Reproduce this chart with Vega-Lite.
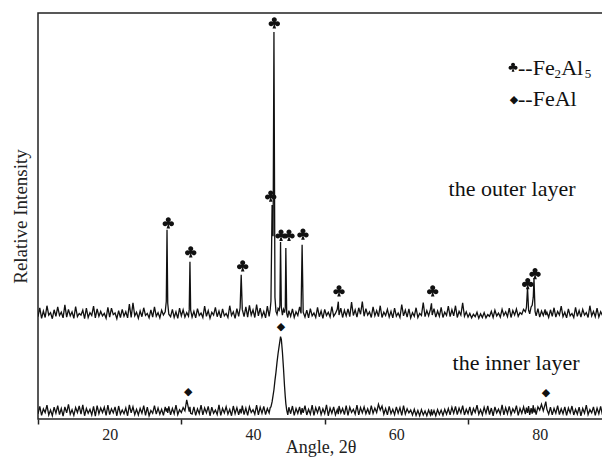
{
  "$schema": "https://vega.github.io/schema/vega-lite/v6.json",
  "autosize": {"type": "none"},
  "padding": {"left": 38, "top": 13, "right": 0, "bottom": 40},
  "width": 565,
  "height": 406,
  "background": "white",
  "config": {
    "view": {"stroke": "#222", "strokeWidth": 1.5},
    "font": "Liberation Serif",
    "text": {"font": "Liberation Serif", "color": "#111"}
  },
  "datasets": {
    "xrd": [
      {"a":10.0,"o":25.2,"i":1.3},{"a":10.25,"o":27.4,"i":3.1},{"a":10.5,"o":24.8,"i":0.9},{"a":10.75,"o":26.6,"i":2.5},
      {"a":11.0,"o":25.0,"i":1.6},{"a":11.25,"o":27.9,"i":3.4},{"a":11.5,"o":25.6,"i":1.0},{"a":11.75,"o":26.2,"i":2.2},
      {"a":12.0,"o":24.7,"i":0.8},{"a":12.25,"o":26.9,"i":2.9},{"a":12.5,"o":25.3,"i":1.4},{"a":12.75,"o":27.6,"i":3.3},
      {"a":13.0,"o":25.5,"i":1.1},{"a":13.25,"o":26.3,"i":2.6},{"a":13.5,"o":24.9,"i":0.7},{"a":13.75,"o":28.1,"i":3.0},
      {"a":14.0,"o":25.1,"i":1.5},{"a":14.25,"o":27.0,"i":3.6},{"a":14.5,"o":25.4,"i":1.2},{"a":14.75,"o":26.4,"i":2.3},
      {"a":15.0,"o":24.8,"i":0.9},{"a":15.25,"o":27.7,"i":2.8},{"a":15.5,"o":25.2,"i":1.6},{"a":15.75,"o":26.0,"i":3.2},
      {"a":16.0,"o":25.6,"i":1.2},{"a":16.25,"o":26.8,"i":3.5},{"a":16.5,"o":24.7,"i":0.8},{"a":16.75,"o":27.3,"i":2.6},
      {"a":17.0,"o":25.0,"i":1.4},{"a":17.25,"o":26.2,"i":2.4},{"a":17.5,"o":25.5,"i":1.0},{"a":17.75,"o":27.8,"i":3.1},
      {"a":18.0,"o":24.9,"i":0.7},{"a":18.25,"o":27.1,"i":3.3},{"a":18.5,"o":25.3,"i":1.3},{"a":18.75,"o":26.5,"i":2.7},
      {"a":19.0,"o":25.4,"i":1.6},{"a":19.25,"o":26.0,"i":2.9},{"a":19.5,"o":24.8,"i":0.9},{"a":19.75,"o":27.5,"i":3.4},
      {"a":20.0,"o":25.1,"i":1.1},{"a":20.25,"o":27.3,"i":2.5},{"a":20.5,"o":25.7,"i":1.5},{"a":20.75,"o":26.1,"i":3.0},
      {"a":21.0,"o":24.7,"i":0.8},{"a":21.25,"o":26.7,"i":3.2},{"a":21.5,"o":25.0,"i":1.2},{"a":21.75,"o":27.0,"i":2.2},
      {"a":22.0,"o":25.3,"i":1.3},{"a":22.25,"o":26.4,"i":2.7},{"a":22.5,"o":24.9,"i":0.8},{"a":22.75,"o":28.3,"i":3.5},
      {"a":23.0,"o":25.0,"i":1.5},{"a":23.25,"o":28.6,"i":3.0},{"a":23.5,"o":25.4,"i":1.1},{"a":23.75,"o":26.3,"i":2.4},
      {"a":24.0,"o":24.8,"i":1.0},{"a":24.25,"o":26.6,"i":2.6},{"a":24.5,"o":25.2,"i":1.4},{"a":24.75,"o":27.4,"i":3.3},
      {"a":25.0,"o":25.5,"i":0.9},{"a":25.25,"o":26.0,"i":2.9},{"a":25.5,"o":24.9,"i":0.8},{"a":25.75,"o":26.9,"i":2.1},
      {"a":26.0,"o":25.1,"i":1.4},{"a":26.25,"o":27.6,"i":3.3},{"a":26.5,"o":25.3,"i":1.2},{"a":26.75,"o":26.2,"i":2.7},
      {"a":27.0,"o":24.9,"i":1.2},{"a":27.25,"o":26.8,"i":2.4},{"a":27.5,"o":25.6,"i":0.9},{"a":27.75,"o":26.4,"i":3.0},
      {"a":27.9,"o":29.0,"i":1.8},{"a":28.0,"o":46.6,"i":2.6},{"a":28.1,"o":28.5,"i":1.5},{"a":28.25,"o":25.8,"i":3.1},
      {"a":28.5,"o":25.2,"i":1.0},{"a":28.75,"o":27.0,"i":2.6},
      {"a":29.0,"o":25.0,"i":1.3},{"a":29.25,"o":26.4,"i":3.4},{"a":29.5,"o":24.8,"i":1.1},{"a":29.75,"o":27.3,"i":2.3},
      {"a":30.0,"o":25.4,"i":1.6},{"a":30.25,"o":26.9,"i":2.8},{"a":30.5,"o":25.1,"i":2.0},{"a":30.75,"o":26.2,"i":4.7},
      {"a":31.0,"o":25.3,"i":2.6},{"a":31.1,"o":27.0,"i":1.8},{"a":31.2,"o":38.7,"i":3.0},{"a":31.3,"o":26.8,"i":1.4},
      {"a":31.5,"o":25.1,"i":1.2},{"a":31.75,"o":26.5,"i":3.0},
      {"a":32.0,"o":24.9,"i":0.9},{"a":32.25,"o":27.2,"i":2.5},{"a":32.5,"o":25.5,"i":1.3},{"a":32.75,"o":26.1,"i":3.4},
      {"a":33.0,"o":25.0,"i":1.0},{"a":33.25,"o":27.8,"i":2.7},{"a":33.5,"o":25.3,"i":1.5},{"a":33.75,"o":26.7,"i":3.1},
      {"a":34.0,"o":24.8,"i":0.8},{"a":34.25,"o":26.3,"i":2.9},{"a":34.5,"o":25.6,"i":1.4},{"a":34.75,"o":27.5,"i":2.2},
      {"a":35.0,"o":25.2,"i":1.1},{"a":35.25,"o":26.6,"i":3.5},{"a":35.5,"o":24.9,"i":0.9},{"a":35.75,"o":27.1,"i":2.6},
      {"a":36.0,"o":25.4,"i":1.5},{"a":36.25,"o":26.0,"i":3.0},{"a":36.5,"o":25.0,"i":1.2},{"a":36.75,"o":27.9,"i":2.4},
      {"a":37.0,"o":25.5,"i":0.8},{"a":37.25,"o":26.4,"i":3.2},{"a":37.5,"o":24.8,"i":1.3},{"a":37.75,"o":27.2,"i":2.8},
      {"a":38.0,"o":25.3,"i":1.0},{"a":38.2,"o":27.4,"i":2.5},{"a":38.35,"o":35.5,"i":1.4},{"a":38.5,"o":27.0,"i":3.3},
      {"a":38.75,"o":25.2,"i":1.1},
      {"a":39.0,"o":27.6,"i":2.7},{"a":39.25,"o":25.1,"i":0.9},{"a":39.5,"o":28.0,"i":3.0},{"a":39.75,"o":25.6,"i":1.6},
      {"a":40.0,"o":26.9,"i":2.3},{"a":40.25,"o":25.0,"i":1.2},{"a":40.5,"o":28.2,"i":3.4},{"a":40.75,"o":25.4,"i":1.0},
      {"a":41.0,"o":27.3,"i":2.9},{"a":41.25,"o":25.2,"i":1.4},{"a":41.5,"o":26.5,"i":3.1},{"a":41.75,"o":24.9,"i":1.1},
      {"a":42.0,"o":27.8,"i":2.6},{"a":42.25,"o":25.3,"i":1.5},{"a":42.4,"o":27.0,"i":2.8},{"a":42.5,"o":29.0,"i":3.0},
      {"a":42.66,"o":52.7,"i":4.2},{"a":42.8,"o":45.0,"i":5.8},{"a":42.92,"o":95.3,"i":7.2},{"a":43.06,"o":30.0,"i":9.5},
      {"a":43.2,"o":26.5,"i":11.5},{"a":43.35,"o":25.8,"i":14.0},{"a":43.5,"o":27.2,"i":16.2},{"a":43.65,"o":26.8,"i":18.0},
      {"a":43.75,"o":28.0,"i":19.2},{"a":43.84,"o":43.6,"i":20.3},{"a":43.95,"o":27.5,"i":19.6},{"a":44.1,"o":25.6,"i":16.5},
      {"a":44.25,"o":27.0,"i":12.5},{"a":44.4,"o":26.2,"i":8.0},{"a":44.5,"o":27.4,"i":5.5},{"a":44.58,"o":42.1,"i":3.8},
      {"a":44.7,"o":26.0,"i":2.2},{"a":44.85,"o":25.0,"i":1.0},
      {"a":45.0,"o":26.7,"i":2.9},{"a":45.25,"o":25.3,"i":1.3},{"a":45.5,"o":27.1,"i":3.2},{"a":45.75,"o":25.0,"i":0.9},
      {"a":46.0,"o":26.4,"i":2.6},{"a":46.25,"o":25.5,"i":1.4},{"a":46.5,"o":27.6,"i":3.0},{"a":46.7,"o":26.0,"i":1.1},
      {"a":46.85,"o":42.9,"i":2.7},{"a":47.0,"o":26.3,"i":1.5},{"a":47.25,"o":25.1,"i":3.3},{"a":47.5,"o":26.8,"i":1.0},
      {"a":47.75,"o":24.9,"i":2.4},{"a":48.0,"o":27.2,"i":1.2},{"a":48.25,"o":25.4,"i":3.4},{"a":48.5,"o":26.1,"i":0.9},
      {"a":48.75,"o":25.0,"i":2.8},{"a":49.0,"o":27.5,"i":1.5},{"a":49.25,"o":25.2,"i":3.1},{"a":49.5,"o":26.6,"i":1.1},
      {"a":49.75,"o":24.8,"i":2.5},{"a":50.0,"o":27.0,"i":1.3},{"a":50.25,"o":25.5,"i":3.5},{"a":50.5,"o":26.3,"i":0.8},
      {"a":50.75,"o":25.1,"i":2.7},{"a":51.0,"o":27.7,"i":1.4},{"a":51.25,"o":25.3,"i":3.0},{"a":51.5,"o":26.0,"i":1.0},
      {"a":51.75,"o":27.0,"i":2.3},{"a":51.9,"o":28.9,"i":1.2},{"a":52.0,"o":25.6,"i":3.2},{"a":52.25,"o":27.3,"i":1.5},
      {"a":52.5,"o":25.0,"i":2.6},{"a":52.75,"o":26.8,"i":1.1},{"a":53.0,"o":25.4,"i":3.3},{"a":53.25,"o":27.1,"i":0.9},
      {"a":53.5,"o":25.2,"i":2.9},{"a":53.75,"o":28.8,"i":1.6},{"a":54.0,"o":25.5,"i":2.4},{"a":54.25,"o":26.9,"i":1.2},
      {"a":54.5,"o":25.1,"i":3.4},{"a":54.75,"o":27.4,"i":1.0},{"a":55.0,"o":25.8,"i":2.8},{"a":55.25,"o":28.9,"i":1.5},
      {"a":55.5,"o":25.3,"i":3.0},{"a":55.75,"o":27.2,"i":1.3},{"a":56.0,"o":25.6,"i":2.5},{"a":56.25,"o":26.4,"i":1.1},
      {"a":56.5,"o":25.0,"i":3.3},{"a":56.75,"o":27.6,"i":1.4},{"a":57.0,"o":25.4,"i":2.7},{"a":57.25,"o":26.7,"i":1.6},
      {"a":57.5,"o":25.2,"i":3.6},{"a":57.75,"o":27.9,"i":2.2},{"a":58.0,"o":25.0,"i":3.2},{"a":58.25,"o":26.3,"i":1.2},
      {"a":58.5,"o":25.5,"i":2.6},{"a":58.75,"o":27.0,"i":1.0},{"a":59.0,"o":25.1,"i":3.1},{"a":59.25,"o":26.5,"i":1.3},
      {"a":59.5,"o":24.9,"i":2.4},{"a":59.75,"o":27.3,"i":1.1},{"a":60.0,"o":25.3,"i":3.0},{"a":60.25,"o":26.1,"i":1.4},
      {"a":60.5,"o":25.0,"i":2.8},{"a":60.75,"o":28.2,"i":0.9},{"a":61.0,"o":25.4,"i":3.3},{"a":61.25,"o":26.8,"i":1.2},
      {"a":61.5,"o":25.1,"i":2.5},{"a":61.75,"o":27.1,"i":1.5},{"a":62.0,"o":24.9,"i":2.2},{"a":62.25,"o":26.2,"i":1.0},
      {"a":62.5,"o":25.3,"i":2.4},{"a":62.75,"o":27.4,"i":0.9},{"a":63.0,"o":25.0,"i":2.1},{"a":63.25,"o":26.0,"i":0.8},
      {"a":63.5,"o":25.5,"i":2.3},{"a":63.75,"o":28.7,"i":1.0},{"a":64.0,"o":25.2,"i":2.0},{"a":64.25,"o":26.7,"i":0.8},
      {"a":64.5,"o":25.4,"i":2.2},{"a":64.75,"o":27.0,"i":1.0},{"a":64.9,"o":28.5,"i":2.4},{"a":65.0,"o":25.6,"i":0.9},
      {"a":65.25,"o":27.2,"i":2.1},{"a":65.5,"o":25.1,"i":0.8},{"a":65.75,"o":26.6,"i":2.3},{"a":66.0,"o":25.3,"i":1.1},
      {"a":66.25,"o":27.5,"i":2.2},{"a":66.5,"o":25.0,"i":0.9},{"a":66.75,"o":26.3,"i":2.4},{"a":67.0,"o":25.5,"i":1.2},
      {"a":67.25,"o":27.8,"i":2.6},{"a":67.5,"o":25.2,"i":1.0},{"a":67.75,"o":26.9,"i":2.9},{"a":68.0,"o":25.4,"i":1.4},
      {"a":68.25,"o":27.9,"i":3.1},{"a":68.5,"o":25.0,"i":1.1},{"a":68.75,"o":26.5,"i":2.7},{"a":69.0,"o":25.6,"i":1.5},
      {"a":69.25,"o":28.6,"i":3.3},{"a":69.5,"o":25.3,"i":1.0},{"a":69.75,"o":26.4,"i":2.4},{"a":70.0,"o":25.1,"i":1.3},
      {"a":70.25,"o":26.0,"i":3.0},{"a":70.5,"o":24.9,"i":0.9},{"a":70.75,"o":25.8,"i":2.6},{"a":71.0,"o":25.2,"i":1.6},
      {"a":71.25,"o":26.3,"i":3.4},{"a":71.5,"o":24.8,"i":1.2},{"a":71.75,"o":25.9,"i":2.3},{"a":72.0,"o":25.0,"i":1.0},
      {"a":72.25,"o":26.2,"i":2.9},{"a":72.5,"o":24.9,"i":1.4},{"a":72.75,"o":25.7,"i":3.2},{"a":73.0,"o":25.3,"i":1.1},
      {"a":73.25,"o":26.5,"i":2.7},{"a":73.5,"o":25.0,"i":0.8},{"a":73.75,"o":26.8,"i":3.0},{"a":74.0,"o":25.4,"i":1.5},
      {"a":74.25,"o":26.1,"i":2.4},{"a":74.5,"o":25.1,"i":1.2},{"a":74.75,"o":27.0,"i":3.5},{"a":75.0,"o":25.5,"i":1.0},
      {"a":75.25,"o":26.4,"i":2.8},{"a":75.5,"o":25.2,"i":1.3},{"a":75.75,"o":27.3,"i":3.1},{"a":76.0,"o":25.0,"i":1.1},
      {"a":76.25,"o":26.7,"i":2.5},{"a":76.5,"o":25.6,"i":1.6},{"a":76.75,"o":27.1,"i":3.3},{"a":77.0,"o":25.3,"i":0.9},
      {"a":77.25,"o":26.2,"i":2.6},{"a":77.5,"o":25.8,"i":1.4},{"a":77.75,"o":27.0,"i":3.0},{"a":78.0,"o":26.4,"i":1.2},
      {"a":78.15,"o":27.5,"i":2.8},{"a":78.3,"o":32.3,"i":1.5},{"a":78.45,"o":26.8,"i":3.2},{"a":78.6,"o":25.9,"i":1.0},
      {"a":78.8,"o":27.6,"i":2.7},{"a":78.95,"o":28.0,"i":1.3},{"a":79.1,"o":30.0,"i":3.4},{"a":79.2,"o":34.7,"i":1.6},
      {"a":79.35,"o":26.5,"i":2.4},{"a":79.5,"o":25.4,"i":1.1},{"a":79.75,"o":27.2,"i":3.0},{"a":80.0,"o":25.1,"i":2.2},
      {"a":80.25,"o":26.6,"i":3.6},{"a":80.5,"o":25.5,"i":2.0},{"a":80.75,"o":27.0,"i":3.6},{"a":80.85,"o":25.6,"i":4.3},
      {"a":81.0,"o":26.3,"i":2.4},{"a":81.25,"o":25.0,"i":1.2},{"a":81.5,"o":26.9,"i":2.9},{"a":81.75,"o":25.3,"i":1.0},
      {"a":82.0,"o":27.4,"i":2.6},{"a":82.25,"o":25.1,"i":1.4},{"a":82.5,"o":26.5,"i":3.3},{"a":82.75,"o":25.6,"i":1.1},
      {"a":83.0,"o":27.8,"i":2.5},{"a":83.25,"o":25.2,"i":1.3},{"a":83.5,"o":26.3,"i":3.0},{"a":83.75,"o":24.9,"i":0.9},
      {"a":84.0,"o":27.1,"i":2.7},{"a":84.25,"o":25.4,"i":1.5},{"a":84.5,"o":26.0,"i":3.2},{"a":84.75,"o":25.0,"i":1.0},
      {"a":85.0,"o":27.5,"i":2.4},{"a":85.25,"o":25.3,"i":1.2},{"a":85.5,"o":26.7,"i":2.9},{"a":85.75,"o":25.1,"i":0.8},
      {"a":86.0,"o":27.0,"i":2.6},{"a":86.25,"o":25.6,"i":1.4},{"a":86.5,"o":26.2,"i":3.4},{"a":86.75,"o":25.0,"i":1.1},
      {"a":87.0,"o":27.9,"i":2.3},{"a":87.25,"o":25.4,"i":1.5},{"a":87.5,"o":26.5,"i":3.0},{"a":87.75,"o":25.2,"i":0.9},
      {"a":88.0,"o":27.3,"i":2.7},{"a":88.25,"o":25.1,"i":1.3},{"a":88.5,"o":26.4,"i":3.1},{"a":88.75,"o":25.5,"i":1.0},
      {"a":89.0,"o":26.8,"i":2.5}
    ],
    "clubs": [
      {"a":28.18,"y":48.35},{"a":31.31,"y":41.21},{"a":38.56,"y":37.76},{"a":42.47,"y":54.93},
      {"a":42.97,"y":97.61},{"a":43.91,"y":45.32},{"a":45.02,"y":45.32},{"a":46.97,"y":45.57},
      {"a":52.0,"y":31.6},{"a":65.07,"y":31.6},{"a":78.33,"y":33.42},{"a":79.35,"y":35.89}
    ],
    "diamonds": [
      {"a":30.97,"y":6.72},{"a":43.91,"y":22.73},{"a":80.88,"y":6.48}
    ],
    "labels": [
      {"a":76.14,"y":54.93,"t":"the outer layer"},
      {"a":76.7,"y":12.07,"t":"the inner layer"}
    ],
    "legend": [
      {"a":76.97,"y":84.73,"t":"--Fe"},
      {"a":83.0,"y":84.73,"t":"Al"},
      {"a":76.97,"y":77.09,"t":"--FeAl"}
    ],
    "subs": [
      {"a":82.07,"y":83.99,"t":"2"},
      {"a":86.3,"y":83.99,"t":"5"}
    ],
    "legclub": [{"a":76.28,"y":86.7}],
    "legdiam": [{"a":76.42,"y":78.57}]
  },
  "encoding": {
    "x": {
      "field": "a", "type": "quantitative",
      "scale": {"domain": [10, 88.83], "nice": false, "zero": false},
      "axis": {
        "title": "Angle, 2θ",
        "values": [10, 20, 30, 40, 50, 60, 70, 80],
        "labelExpr": "datum.value % 20 == 0 ? datum.label : ''",
        "tickColor": {"condition": {"test": "datum.value % 20 == 10", "value": "#222"}, "value": "transparent"},
        "tickSize": 5, "tickWidth": 1.5,
        "domain": false, "grid": false,
        "labelFont": "Liberation Serif", "labelFontSize": 16, "labelColor": "#222", "labelPadding": 2,
        "titleFont": "Liberation Serif", "titleFontSize": 18, "titleFontWeight": "normal", "titleColor": "#222",
        "titleBaseline": "alphabetic", "titleY": 33
      }
    },
    "y": {
      "field": "y", "type": "quantitative",
      "scale": {"domain": [0, 100], "nice": false, "zero": false},
      "axis": {
        "title": "Relative Intensity", "labels": false, "ticks": false, "domain": false, "grid": false,
        "titleFont": "Liberation Serif", "titleFontSize": 19, "titleFontWeight": "normal", "titleColor": "#222", "titlePadding": 8
      }
    }
  },
  "layer": [
    {
      "data": {"name": "xrd"},
      "mark": {"type": "line", "color": "#111", "strokeWidth": 1.3, "clip": true},
      "encoding": {"y": {"field": "o", "type": "quantitative"}}
    },
    {
      "data": {"name": "xrd"},
      "mark": {"type": "line", "color": "#111", "strokeWidth": 1.3, "clip": true},
      "encoding": {"y": {"field": "i", "type": "quantitative"}}
    },
    {
      "data": {"name": "clubs"},
      "mark": {"type": "point", "filled": true, "opacity": 1, "color": "#111", "size": 144,
        "shape": "M-0.42,-0.48 A0.42,0.42 0 1,0 0.42,-0.48 A0.42,0.42 0 1,0 -0.42,-0.48 Z M-0.95,0.18 A0.42,0.42 0 1,0 -0.11,0.18 A0.42,0.42 0 1,0 -0.95,0.18 Z M0.11,0.18 A0.42,0.42 0 1,0 0.95,0.18 A0.42,0.42 0 1,0 0.11,0.18 Z M-0.25,-0.25 L-0.25,0.35 L0.25,0.35 L0.25,-0.25 Z M0,0.1 L-0.3,0.98 L0.3,0.98 Z"}
    },
    {
      "data": {"name": "diamonds"},
      "mark": {"type": "text", "text": "◆", "font": "DejaVu Sans", "fontSize": 11, "baseline": "middle", "align": "center", "color": "#111"}
    },
    {
      "data": {"name": "labels"},
      "mark": {"type": "text", "fontSize": 22, "baseline": "alphabetic", "align": "center"},
      "encoding": {"text": {"field": "t"}}
    },
    {
      "data": {"name": "legend"},
      "mark": {"type": "text", "fontSize": 22, "baseline": "alphabetic", "align": "left"},
      "encoding": {"text": {"field": "t"}}
    },
    {
      "data": {"name": "subs"},
      "mark": {"type": "text", "fontSize": 13, "baseline": "alphabetic", "align": "left"},
      "encoding": {"text": {"field": "t"}}
    },
    {
      "data": {"name": "legclub"},
      "mark": {"type": "point", "filled": true, "opacity": 1, "color": "#111", "size": 90,
        "shape": "M-0.42,-0.48 A0.42,0.42 0 1,0 0.42,-0.48 A0.42,0.42 0 1,0 -0.42,-0.48 Z M-0.95,0.18 A0.42,0.42 0 1,0 -0.11,0.18 A0.42,0.42 0 1,0 -0.95,0.18 Z M0.11,0.18 A0.42,0.42 0 1,0 0.95,0.18 A0.42,0.42 0 1,0 0.11,0.18 Z M-0.25,-0.25 L-0.25,0.35 L0.25,0.35 L0.25,-0.25 Z M0,0.1 L-0.3,0.98 L0.3,0.98 Z"}
    },
    {
      "data": {"name": "legdiam"},
      "mark": {"type": "text", "text": "◆", "font": "DejaVu Sans", "fontSize": 11, "baseline": "middle", "align": "center", "color": "#111"}
    }
  ]
}
